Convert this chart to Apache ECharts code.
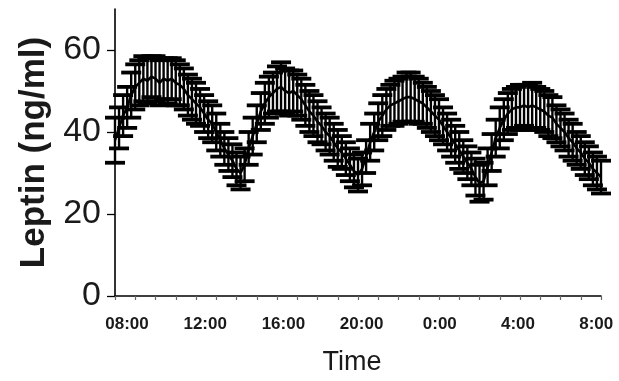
<!DOCTYPE html>
<html>
<head>
<meta charset="utf-8">
<script src="https://cdn.jsdelivr.net/npm/echarts@6/dist/echarts.min.js"></script>
<style>
  html, body { margin: 0; padding: 0; background: #fff; }
  #chart { width: 619px; height: 381px; }
</style>
</head>
<body>
<div id="chart"></div>
<script>
// Plasma leptin, mean ± SEM, sampled every 12 minutes from 08:00 to 08:00
const sampleStepMin = 12;

// Mean leptin (ng/ml), five samples per hour
const leptinMean = [
  38, 41, 44, 46, 49,          // 08:00
  51, 52, 53, 52.5, 53.5,      // 09:00
  53, 52, 53, 52.5, 53,        // 10:00
  52, 51.5, 50.5, 49, 48,      // 11:00
  47, 46, 44.5, 43, 42,        // 12:00
  40, 38, 36, 34.5, 33,        // 13:00
  31, 30, 32, 36, 39,          // 14:00
  42, 45, 47, 48.5, 49.5,      // 15:00
  50.5, 51, 50, 49.5, 50,      // 16:00
  49, 48, 46.5, 45, 44,        // 17:00
  42.5, 41.5, 40, 39, 37.5,    // 18:00
  36, 35, 33.5, 32, 30.5,      // 19:00
  29.5, 31, 34, 37.5, 40,      // 20:00
  42.5, 44, 45.5, 46.5, 47,    // 21:00
  47.5, 48, 48.5, 48.5, 48,    // 22:00
  47.5, 47, 46, 45, 44,        // 23:00
  43, 41.5, 40, 38.5, 37,      // 00:00
  35.5, 34, 32.5, 31, 29,      // 01:00
  27.5, 28, 31.5, 35, 38.5,    // 02:00
  41, 43, 44.5, 45.5, 46,      // 03:00
  46, 46.5, 46, 46.5, 46,      // 04:00
  45.5, 45, 44, 43.5, 42,      // 05:00
  41, 40, 38.5, 37.5, 36,      // 06:00
  35, 33.5, 32.5, 31, 30,      // 07:00
  29                           // 08:00
];

// Standard error of the mean (ng/ml) for each sample
const leptinSem = [
  5.5, 5, 5, 5, 5.5,
  5.5, 5.5, 5.5, 5.5, 5,
  5.5, 5.5, 5, 5.5, 5,
  5.5, 5, 5, 5, 5,
  5, 4.5, 4.5, 4.5, 4.5,
  4.5, 4, 4, 4, 4,
  4, 4, 4, 4, 4.5,
  4.5, 4.5, 5, 5, 5,
  5.5, 6, 5.5, 5.5, 5,
  5, 5, 5, 5, 5,
  5, 4.5, 4.5, 4.5, 4.5,
  4.5, 4, 4, 4, 4,
  4, 4, 4, 4.5, 4.5,
  4.5, 5, 5, 5, 5.5,
  5.5, 5.5, 6, 6, 5.5,
  5.5, 5, 5, 5, 5,
  5, 4.5, 4.5, 4.5, 4.5,
  4.5, 4, 4, 4, 4.5,
  4.5, 4.5, 4.5, 4.5, 4.5,
  5, 5, 5, 5, 5,
  5.5, 5, 5.5, 5.5, 5,
  5, 5, 5, 5, 4.5,
  4.5, 4.5, 4.5, 4.5, 4,
  4, 4, 4, 4, 4,
  4
];

// Clock labels along the time axis
const timeLabels = ['08:00', '12:00', '16:00', '20:00', '0:00', '4:00', '8:00'];

// Leptin axis ticks
const yTickValues = [0, 20, 40, 60];

const meanPoints = leptinMean.map((v, i) => [i * sampleStepMin / 60, v]);
const barPoints = leptinMean.map((v, i) => [i * sampleStepMin / 60, v - leptinSem[i], v + leptinSem[i]]);

const chart = echarts.init(document.getElementById('chart'), null, { renderer: 'canvas' });

const ink = '#000';
const font = 'Liberation Sans, Arial, sans-serif';

chart.setOption({
  animation: false,
  backgroundColor: '#fff',
  grid: { left: 115, right: 18, top: 9, bottom: 85, containLabel: false },
  xAxis: [
    {
      type: 'value', min: 0, max: 24, interval: 1,
      axisLine: { lineStyle: { color: ink, width: 1.6 } },
      axisTick: { show: true, length: 4, lineStyle: { color: '#666', width: 1.2 } },
      axisLabel: { show: false },
      splitLine: { show: false },
      name: 'Time', nameLocation: 'middle', nameGap: 53,
      nameTextStyle: { fontFamily: font, fontSize: 27, color: '#1a1a1a', padding: [0, 12, 0, 0] }
    },
    {
      // carries the clock labels only
      type: 'value', position: 'bottom', min: -0.1535, max: 6.0615,
      axisLine: { show: false }, axisTick: { show: false }, splitLine: { show: false },
      axisLabel: {
        customValues: [0, 1, 2, 3, 4, 5, 6],
        formatter: v => timeLabels[Math.round(v)],
        margin: 20,
        fontFamily: font, fontWeight: 'bold', fontSize: 17, color: '#1a1a1a'
      }
    }
  ],
  yAxis: {
    type: 'value', min: 0, max: 70,
    axisLine: { show: true, lineStyle: { color: ink, width: 1.6 } },
    axisTick: { show: true, length: 8, customValues: yTickValues, lineStyle: { color: ink, width: 1.3 } },
    axisLabel: {
      customValues: yTickValues,
      margin: 14, fontFamily: font, fontSize: 34, color: '#1a1a1a'
    },
    splitLine: { show: false },
    name: 'Leptin (ng/ml)', nameLocation: 'middle', nameGap: 63, nameRotate: 90,
    nameTextStyle: { fontFamily: font, fontSize: 35, fontWeight: 'bold', color: '#1a1a1a' }
  },
  series: [
    {
      type: 'custom',
      name: 'SEM',
      xAxisIndex: 0,
      data: barPoints,
      renderItem: (params, api) => {
        const x = api.value(0);
        const lo = api.coord([x, api.value(1)]);
        const hi = api.coord([x, api.value(2)]);
        const half = 10;
        const style = { stroke: ink, lineWidth: 2.4, fill: null };
        const capStyle = { stroke: ink, lineWidth: 3.8, fill: null };
        return {
          type: 'group',
          children: [
            { type: 'line', shape: { x1: lo[0], y1: lo[1], x2: hi[0], y2: hi[1] }, style },
            { type: 'line', shape: { x1: lo[0] - half, y1: lo[1], x2: lo[0] + half, y2: lo[1] }, style: capStyle },
            { type: 'line', shape: { x1: hi[0] - half, y1: hi[1], x2: hi[0] + half, y2: hi[1] }, style: capStyle }
          ]
        };
      },
      z: 2
    },
    {
      type: 'line',
      name: 'Leptin',
      xAxisIndex: 0,
      data: meanPoints,
      showSymbol: false,
      lineStyle: { color: ink, width: 2.6 },
      z: 3
    }
  ]
});
</script>
</body>
</html>
